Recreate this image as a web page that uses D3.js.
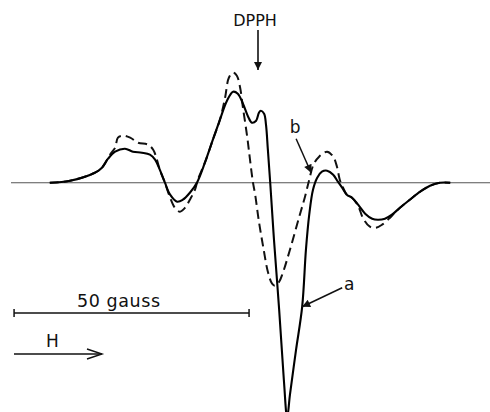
<!DOCTYPE html>
<html>
<head>
<meta charset="utf-8">
<script src="https://cdn.jsdelivr.net/npm/d3@7"></script>
<style>
  html, body { margin: 0; padding: 0; background: #fff; }
  svg { display: block; }
  text { font-family: "DejaVu Sans", sans-serif; fill: #111; }
</style>
</head>
<body>
<svg id="chart" width="490" height="412"></svg>
<script>
// EPR derivative spectra; field offset in gauss relative to the DPPH marker,
// signal in arbitrary units.
const fieldA = [-44.3, -40.0, -34.7, -33.2, -31.9, -30.4, -28.3, -26.6, -24.7, -23.0,
  -21.9, -20.9, -19.8, -18.7, -17.2, -16.0, -14.5, -13.0, -11.3, -9.6,
  -8.1, -6.6, -5.3, -4.3, -3.2, -2.1, -1.3, -0.4, 0.2, 0.6,
  1.3, 1.7, 2.1, 2.6, 3.4, 4.5, 5.5, 6.2, 6.8, 8.1,
  9.4, 10.2, 10.9, 11.7, 12.6, 13.6, 14.7, 16.0, 17.0, 17.9,
  18.9, 20.0, 21.3, 22.8, 24.3, 25.5, 27.0, 28.5, 30.2, 32.3,
  34.5, 36.6, 38.7, 40.9];
const signalA = [0, 2, 10, 15, 24, 31, 34, 31, 30, 28,
  23, 13, 0, -12, -19, -17, -10, 0, 20, 43,
  63, 82, 91, 89, 79, 66, 60, 62, 70, 72,
  69, 58, 33, 0, -57, -127, -197, -235, -212, -167,
  -124, -67, -32, -7, 5, 11, 12, 8, 1, -5,
  -12, -15, -22, -31, -36, -37, -36, -32, -25, -17,
  -9, -3, 0, 0];

const fieldB = [-44.3, -40.0, -34.7, -33.2, -31.5, -30.4, -29.8, -28.7, -27.2, -25.5,
  -23.4, -22.3, -21.5, -20.9, -19.8, -18.7, -17.7, -16.6, -15.5, -14.5,
  -13.4, -12.8, -11.3, -9.6, -8.1, -7.0, -6.2, -5.3, -4.5, -3.8,
  -3.2, -2.3, -1.7, -1.1, -0.6, 0.2, 1.1, 2.1, 3.0, 3.6,
  4.5, 5.3, 6.8, 8.9, 10.0, 10.9, 11.8, 13.0, 14.7, 16.0,
  16.8, 17.4, 18.1, 18.9, 20.0, 21.3, 22.3, 23.8, 25.1, 26.4,
  28.1, 29.1, 30.2, 32.3, 34.5, 36.6, 38.7, 40.9];
const signalB = [0, 2, 10, 15, 28, 35, 45, 47, 45, 40,
  38, 33, 23, 13, 0, -15, -25, -29, -25, -17,
  -7, 3, 20, 43, 63, 85, 105, 110, 107, 95,
  75, 46, 23, 1, -12, -39, -64, -89, -101, -103,
  -99, -90, -67, -32, -14, 3, 18, 26, 31, 26,
  16, 3, -5, -12, -15, -23, -35, -44, -45, -42,
  -35, -30, -25, -17, -9, -3, 0, 0];

const labels = { marker: "DPPH", scale: "50 gauss", field: "H", curveA: "a", curveB: "b" };
const scaleBarStart = -51.9;   // gauss
const scaleBarLength = 50;     // gauss

const svg = d3.select("#chart");
const W = 490, H = 412;

const x = d3.scaleLinear().domain([-50, 50]).range([23, 493]);
const y = d3.scaleLinear().domain([-230, 120]).range([412.7, 62.7]);

const toPts = (fs, ss) => fs.map((f, i) => [f, ss[i]]);
const line = d3.line()
  .x(d => x(d[0]))
  .y(d => y(d[1]))
  .curve(d3.curveCatmullRom.alpha(0.5));

const defs = svg.append("defs");
defs.append("clipPath").attr("id", "frame")
  .append("rect").attr("width", W).attr("height", H);
defs.append("marker")
  .attr("id", "solidHead")
  .attr("viewBox", "0 0 10 10")
  .attr("refX", 10).attr("refY", 5)
  .attr("markerUnits", "userSpaceOnUse")
  .attr("markerWidth", 11).attr("markerHeight", 8)
  .attr("orient", "auto")
  .append("path").attr("d", "M0,0 L10,5 L0,10 Z").attr("fill", "#111");

// zero line
svg.append("line")
  .attr("x1", 11).attr("x2", W)
  .attr("y1", y(0)).attr("y2", y(0))
  .attr("stroke", "#555").attr("stroke-width", 1.1);

const plot = svg.append("g").attr("clip-path", "url(#frame)");

// curve b (dashed)
plot.append("path")
  .datum(toPts(fieldB, signalB))
  .attr("d", line)
  .attr("fill", "none")
  .attr("stroke", "#111")
  .attr("stroke-width", 2)
  .attr("stroke-dasharray", "9,5");

// curve a (solid)
plot.append("path")
  .datum(toPts(fieldA, signalA))
  .attr("d", line)
  .attr("fill", "none")
  .attr("stroke", "#000")
  .attr("stroke-width", 2.1)
  .attr("stroke-linejoin", "round");

// DPPH marker arrow
const xd = x(0);
svg.append("text")
  .attr("x", xd - 3).attr("y", 26)
  .attr("text-anchor", "middle")
  .attr("font-size", 16)
  .text(labels.marker);
svg.append("line")
  .attr("x1", xd).attr("x2", xd)
  .attr("y1", 30).attr("y2", 70)
  .attr("stroke", "#111").attr("stroke-width", 1.6)
  .attr("marker-end", "url(#solidHead)");

// label b with arrow to dashed curve
const bTip = [x(11.3), y(10)];
svg.append("text")
  .attr("x", bTip[0] - 16).attr("y", bTip[1] - 40)
  .attr("text-anchor", "middle")
  .attr("font-size", 17)
  .text(labels.curveB);
svg.append("line")
  .attr("x1", bTip[0] - 15).attr("y1", bTip[1] - 34)
  .attr("x2", bTip[0]).attr("y2", bTip[1])
  .attr("stroke", "#111").attr("stroke-width", 1.5)
  .attr("marker-end", "url(#solidHead)");

// label a with arrow to solid curve
const aTip = [x(9.4), y(-124)];
svg.append("text")
  .attr("x", aTip[0] + 47).attr("y", aTip[1] - 17)
  .attr("text-anchor", "middle")
  .attr("font-size", 17)
  .text(labels.curveA);
svg.append("line")
  .attr("x1", aTip[0] + 40).attr("y1", aTip[1] - 19)
  .attr("x2", aTip[0]).attr("y2", aTip[1])
  .attr("stroke", "#111").attr("stroke-width", 1.5)
  .attr("marker-end", "url(#solidHead)");

// 50 gauss scale bar
const sb0 = x(scaleBarStart), sb1 = x(scaleBarStart + scaleBarLength), sbY = 313;
const bar = svg.append("g").attr("stroke", "#111").attr("stroke-width", 1.5);
bar.append("line").attr("x1", sb0).attr("x2", sb1).attr("y1", sbY).attr("y2", sbY);
bar.append("line").attr("x1", sb0).attr("x2", sb0).attr("y1", sbY - 4).attr("y2", sbY + 4);
bar.append("line").attr("x1", sb1).attr("x2", sb1).attr("y1", sbY - 4).attr("y2", sbY + 4);
svg.append("text")
  .attr("x", 77).attr("y", 307)
  .attr("font-size", 17.5)
  .attr("textLength", 83).attr("lengthAdjust", "spacing")
  .text(labels.scale);

// field direction arrow
const hY = 354;
svg.append("text")
  .attr("x", 46).attr("y", 347)
  .attr("font-size", 17)
  .text(labels.field);
const hArrow = svg.append("g").attr("stroke", "#111").attr("stroke-width", 1.4).attr("fill", "none");
hArrow.append("line").attr("x1", 14).attr("x2", 102).attr("y1", hY).attr("y2", hY);
hArrow.append("path").attr("d", `M87,${hY - 5} L102,${hY} L87,${hY + 5}`);
</script>
</body>
</html>
